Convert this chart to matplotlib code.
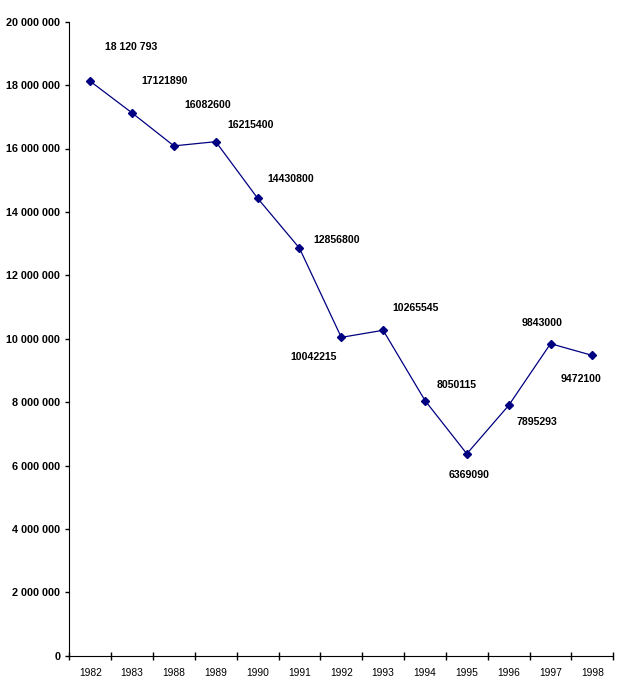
import numpy as np
import matplotlib.pyplot as plt
from matplotlib.ticker import FuncFormatter

years = ["1982", "1983", "1988", "1989", "1990", "1991", "1992",
         "1993", "1994", "1995", "1996", "1997", "1998"]
values = [18120793, 17121890, 16082600, 16215400, 14430800, 12856800,
          10042215, 10265545, 8050115, 6369090, 7895293, 9843000, 9472100]
labels = ["18 120 793", "17121890", "16082600", "16215400", "14430800",
          "12856800", "10042215", "10265545", "8050115", "6369090",
          "7895293", "9843000", "9472100"]
# label offsets from each point, in pixels (x right, y up)
offsets = [(40.7, 34), (32.7, 32), (34, 41), (35.3, 16.3), (33.5, 19.7),
           (37.4, 8.6), (-28, -20), (32.9, 22.4), (31.5, 16), (2.7, -21.7),
           (27.9, -16.6), (-8.3, 21), (-11.3, -23.3)]

plt.rcParams['font.family'] = ['Liberation Sans', 'DejaVu Sans']

fig = plt.figure(figsize=(6.18, 6.98), dpi=100)
ax = fig.add_axes([69.3 / 618, 42.3 / 698, 544 / 618, 634 / 698])

x = np.arange(len(years))
ax.plot(x, values, color='#000080', lw=0.9, marker='D', ms=4.2,
        markerfacecolor='#000080', markeredgecolor='#000080')

for xi, v, lab, off in zip(x, values, labels, offsets):
    ax.annotate(lab, (xi, v), xytext=off, textcoords='offset pixels',
                ha='center', va='center', fontsize=7.6, fontweight='bold')

ax.set_xlim(-0.5, len(years) - 0.5)
ax.set_ylim(0, 20000000)
ax.set_yticks(np.arange(0, 20000001, 2000000))
ax.yaxis.set_major_formatter(
    FuncFormatter(lambda v, p: f"{int(v):,}".replace(",", " ")))
for t in ax.get_yticklabels():
    t.set_fontweight('bold')
ax.tick_params(axis='y', direction='out', length=3, width=1, labelsize=7.8,
               pad=3.5)

ax.set_xticks(x)
ax.set_xticklabels(years)
ax.set_xticks(np.arange(-0.5, len(years)), minor=True)
ax.tick_params(axis='x', which='major', length=0, labelsize=7.4, pad=9)
ax.tick_params(axis='x', which='minor', direction='inout', length=6,
               width=1)

ax.spines['top'].set_visible(False)
ax.spines['right'].set_visible(False)

fig.savefig("out.png", dpi=100)
